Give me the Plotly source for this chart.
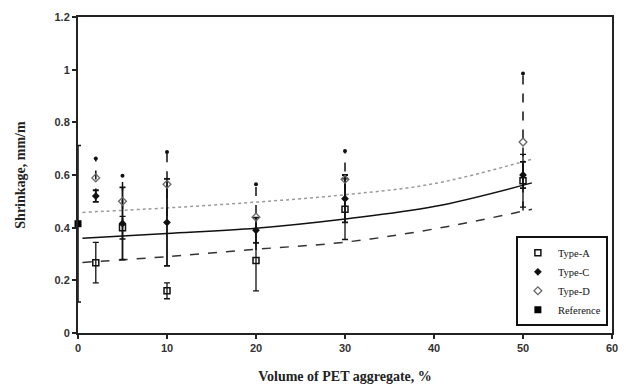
import plotly.graph_objects as go

# ---- data ----
x_vals = [2, 5, 10, 20, 30, 50]

type_a = [0.267, 0.40, 0.16, 0.275, 0.47, 0.578]
type_a_err = [0.077, 0.043, 0.03, 0.115, 0.115, 0.10]

type_c = [0.52, 0.416, 0.42, 0.39, 0.51, 0.60]
type_c_err = [0.022, 0.137, 0.165, 0.048, 0.09, 0.05]

type_d = [0.589, 0.50, 0.565, 0.44, 0.584, 0.725]
type_d_err = [0.074, 0.097, 0.122, 0.125, 0.107, 0.26]

ref_x = [0]
ref_y = [0.415]
ref_err = [0.297]

fit_x = [0.5, 10, 20, 30, 40, 51]
fit_upper = [0.458, 0.475, 0.497, 0.525, 0.567, 0.66]
fit_mid = [0.36, 0.378, 0.398, 0.433, 0.48, 0.57]
fit_low = [0.268, 0.29, 0.318, 0.345, 0.395, 0.47]

x_ticks = [0, 10, 20, 30, 40, 50, 60]
y_ticks = [0, 0.2, 0.4, 0.6, 0.8, 1.0, 1.2]
y_tick_labels = ["0", "0.2", "0.4", "0.6", "0.8", "1", "1.2"]

# ---- figure ----
fig = go.Figure()

# fitted trend lines
fig.add_trace(go.Scatter(x=fit_x, y=fit_upper, mode="lines", line_shape="spline",
                         line=dict(color="#9a9a9a", width=1.5, dash="dot"),
                         showlegend=False, hoverinfo="skip"))
fig.add_trace(go.Scatter(x=fit_x, y=fit_mid, mode="lines", line_shape="spline",
                         line=dict(color="#111111", width=1.5),
                         showlegend=False, hoverinfo="skip"))
fig.add_trace(go.Scatter(x=fit_x, y=fit_low, mode="lines", line_shape="spline",
                         line=dict(color="#333333", width=1.5, dash="dash"),
                         showlegend=False, hoverinfo="skip"))

# dashed error bars for Type-D, built from the data arrays
d_bar_x, d_bar_y = [], []
for xv, yv, ev in zip(x_vals, type_d, type_d_err):
    d_bar_x += [xv, xv, None]
    d_bar_y += [yv - ev, yv + ev, None]
fig.add_trace(go.Scatter(x=d_bar_x, y=d_bar_y, mode="lines",
                         line=dict(color="#111111", width=1.5, dash="dash"),
                         showlegend=False, hoverinfo="skip", connectgaps=False))
fig.add_trace(go.Scatter(x=x_vals, y=[yv + ev for yv, ev in zip(type_d, type_d_err)],
                         mode="markers", marker=dict(symbol="circle", size=4, color="#111111"),
                         showlegend=False, hoverinfo="skip"))

fig.add_trace(go.Scatter(
    x=x_vals, y=type_a, mode="markers", name="Type-A",
    marker=dict(symbol="square-open", size=6, color="#111111", line=dict(width=1.5)),
    error_y=dict(type="data", array=type_a_err, visible=True, color="#111111",
                 thickness=1.3, width=3)))
fig.add_trace(go.Scatter(
    x=x_vals, y=type_c, mode="markers", name="Type-C",
    marker=dict(symbol="diamond", size=6, color="#111111"),
    error_y=dict(type="data", array=type_c_err, visible=True, color="#111111",
                 thickness=1.8, width=3)))
fig.add_trace(go.Scatter(
    x=x_vals, y=type_d, mode="markers", name="Type-D",
    marker=dict(symbol="diamond-open", size=6, color="#666666", line=dict(width=1.3))))
fig.add_trace(go.Scatter(
    x=ref_x, y=ref_y, mode="markers", name="Reference", cliponaxis=False,
    marker=dict(symbol="square", size=7, color="#000000"),
    error_y=dict(type="data", array=ref_err, visible=True, color="#111111",
                 thickness=1.5, width=3)))

tick_font = dict(family="Liberation Sans", size=11, color="#333333", weight="bold")
title_font = dict(family="Liberation Serif", size=14, color="#222222", weight="bold")

fig.update_layout(
    width=626, height=390,
    margin=dict(l=78, r=8, t=17, b=56),
    paper_bgcolor="white", plot_bgcolor="white",
    showlegend=True,
    legend=dict(x=0.82, y=0.306, xanchor="left", yanchor="top",
                bgcolor="white", bordercolor="#111111", borderwidth=2,
                font=dict(family="Liberation Serif", size=10.5, color="#111111"),
                tracegroupgap=0, itemwidth=30),
)
fig.update_xaxes(
    range=[0, 60], tickvals=x_ticks, showgrid=False, zeroline=False,
    showline=True, linecolor="#222222", linewidth=2, mirror=True,
    ticks="outside", ticklen=4, tickwidth=1.5, tickcolor="#222222",
    tickfont=tick_font,
    title=dict(text="Volume of PET aggregate, %", font=title_font, standoff=18))
fig.update_yaxes(
    range=[0, 1.2], tickvals=y_ticks, ticktext=y_tick_labels, showgrid=False, zeroline=False,
    showline=True, linecolor="#222222", linewidth=2, mirror=True,
    ticks="outside", ticklen=4, tickwidth=1.5, tickcolor="#222222",
    tickfont=tick_font,
    title=dict(text="Shrinkage, mm/m", font=title_font, standoff=26))

fig.write_html("out.html", config={"displayModeBar": False},
               post_script="document.body.style.margin='0';document.body.style.padding='0';")
